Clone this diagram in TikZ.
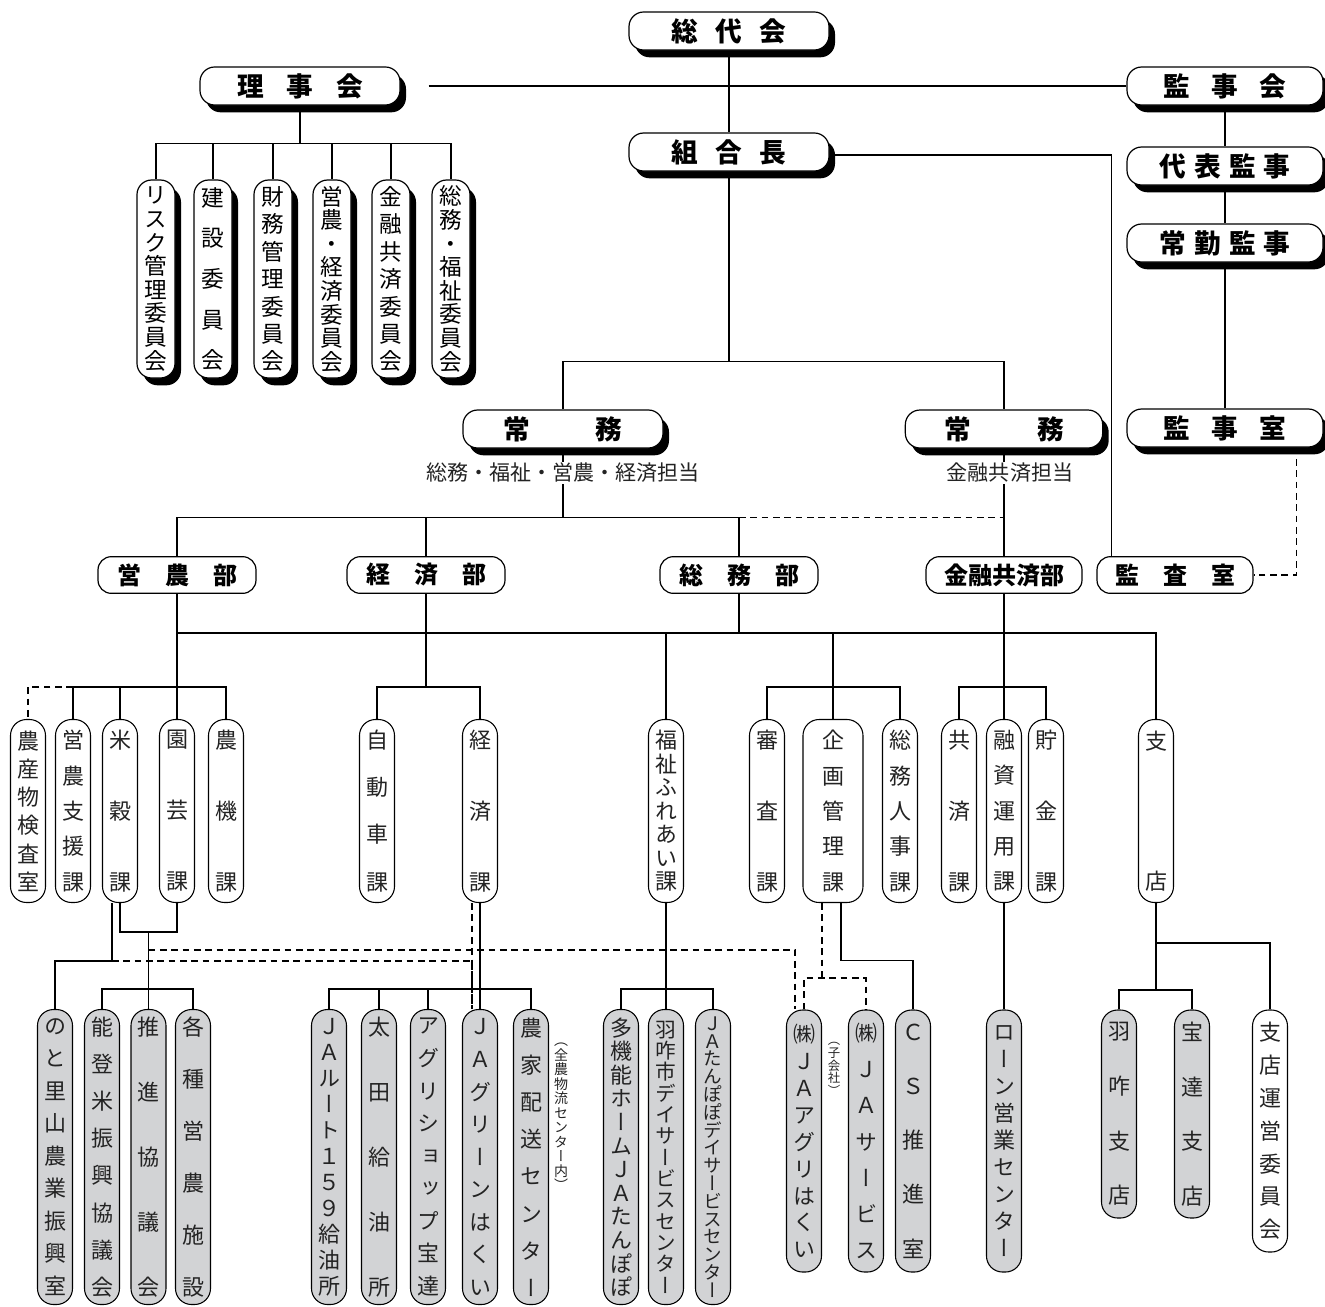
\documentclass[tikz,border=0pt]{standalone}
\usepackage{fontspec}
\setmainfont{Noto Sans CJK JP}
\newfontfamily\vfont{Noto Sans CJK JP}[RawFeature=+vert]
\usetikzlibrary{calc,shadows}
\definecolor{boxgray}{RGB}{210,211,213}
\definecolor{inkgray}{RGB}{35,35,35}
\tikzset{
  conn/.style={draw=black,line width=0.9pt},
  dconn/.style={conn,dash pattern=on 5pt off 3.5pt},
  vt/.style 2 args={font={\vfont\fontsize{#1}{#2}\selectfont\lineskiplimit=-50pt}},
  blackshadow/.style={drop shadow={shadow xshift=4.5pt,shadow yshift=-5.5pt,fill=black,opacity=1}},
  topbox/.style={draw,line width=0.9pt,fill=white,rounded corners=11pt,blackshadow,
    minimum width=150pt,minimum height=28.5pt,inner sep=0pt,
    font=\bfseries\fontsize{20}{22}\selectfont},
  iinbox/.style={draw,line width=0.9pt,fill=white,rounded corners=11pt,blackshadow,
    minimum width=28.5pt,minimum height=148.5pt,inner sep=0pt,align=center},
  bubox/.style={draw,line width=0.9pt,fill=white,rounded corners=10pt,
    minimum width=118.5pt,minimum height=27.5pt,inner sep=0pt,
    font=\bfseries\fontsize{18}{20}\selectfont},
  kabox/.style={draw,line width=0.8pt,fill=white,rounded corners=12pt,text=inkgray,
    minimum width=26.25pt,minimum height=137.25pt,inner sep=0pt,align=center},
  kobox/.style={kabox,fill=boxgray,minimum height=221.25pt},
  tanto/.style={inner sep=1pt,text=inkgray,font=\fontsize{15.8}{18}\selectfont},
  sidenote/.style={inner sep=0pt,align=center,text=inkgray},
}
\begin{document}
\begin{tikzpicture}[x=0.75pt,y=-0.75pt]
\useasboundingbox (0,0) rectangle (1325,1307);
% top
\node[topbox] (sodai) at (729,31) {総\hspace{13pt}代\hspace{13pt}会};
\node[topbox] (riji) at (300,86) {理\hspace{17pt}事\hspace{17pt}会};
\node[topbox,minimum width=147pt] (kanjikai) at (1225,86) {監\hspace{16pt}事\hspace{16pt}会};
\node[topbox] (kumiai) at (729,152) {組\hspace{13pt}合\hspace{13pt}長};
\node[topbox,minimum width=147pt] (daihyo) at (1225,166) {代\hspace{6pt}表\hspace{6pt}監\hspace{6pt}事};
\node[topbox,minimum width=147pt] (jokin) at (1225,243) {常\hspace{6pt}勤\hspace{6pt}監\hspace{6pt}事};
\node[topbox,minimum width=147pt] (kanjishitsu) at (1225,428) {監\hspace{16pt}事\hspace{16pt}室};
\node[topbox] (jomuL) at (563,429) {常\hspace{49pt}務};
\node[topbox,minimum width=148pt] (jomuR) at (1004,429) {常\hspace{50pt}務};
\node[tanto] (tantoL) at (563,473) {総務・福祉・営農・経済担当};
\node[tanto] (tantoR) at (1010,473) {金融共済担当};
% committees
\node[iinbox,vt={17}{17.7}] (iin1) at (156,279) {リ\\ス\\ク\\管\\理\\委\\員\\会};
\node[iinbox,vt={17}{30.4}] (iin2) at (213,279) {建\\設\\委\\員\\会};
\node[iinbox,vt={17}{20.6}] (iin3) at (273,279) {財\\務\\管\\理\\委\\員\\会};
\node[iinbox,vt={17}{17.7}] (iin4) at (332,279) {営\\農\\・\\経\\済\\委\\員\\会};
\node[iinbox,vt={17}{20.6}] (iin5) at (391,279) {金\\融\\共\\済\\委\\員\\会};
\node[iinbox,vt={17}{17.7}] (iin6) at (451,279) {総\\務\\・\\福\\祉\\委\\員\\会};
% departments
\node[bubox] (einobu) at (177,575) {営\hspace{18pt}農\hspace{18pt}部};
\node[bubox] (keizaibu) at (426,575) {経\hspace{18pt}済\hspace{18pt}部};
\node[bubox] (somubu) at (739,575) {総\hspace{18pt}務\hspace{18pt}部};
\node[bubox,minimum width=117pt] (kinyubu) at (1004,575) {金融共済部};
\node[bubox,minimum width=117pt] (kansa) at (1175,575) {監\hspace{18pt}査\hspace{18pt}室};
% sections
\node[kabox,vt={16.5}{21.2}] (kensa) at (28,811) {農\\産\\物\\検\\査\\室};
\node[kabox,vt={16.5}{26.5}] (shien) at (73,811) {営\\農\\支\\援\\課};
\node[kabox,vt={16.5}{53.3}] (beikoku) at (120,811) {米\\穀\\課};
\node[kabox,vt={16.5}{53.3}] (engei) at (177,811) {園\\芸\\課};
\node[kabox,vt={16.5}{53.3}] (noki) at (226,811) {農\\機\\課};
\node[kabox,vt={16.5}{35.3}] (jidosha) at (377,811) {自\\動\\車\\課};
\node[kabox,vt={16.5}{53.3}] (keizaika) at (480,811) {経\\済\\課};
\node[kabox,vt={16.5}{17.6}] (fukushi) at (666,811) {福\\祉\\ふ\\れ\\あ\\い\\課};
\node[kabox,vt={16.5}{53.3}] (shinsa) at (767,811) {審\\査\\課};
\node[kabox,vt={16.5}{26.5},minimum width=45pt] (kikaku) at (833,811) {企\\画\\管\\理\\課};
\node[kabox,vt={16.5}{26.5}] (jinji) at (900,811) {総\\務\\人\\事\\課};
\node[kabox,vt={16.5}{53.3}] (kyosai) at (959,811) {共\\済\\課};
\node[kabox,vt={16.5}{26.5}] (yushi) at (1004,811) {融\\資\\運\\用\\課};
\node[kabox,vt={16.5}{53.3}] (chokin) at (1046,811) {貯\\金\\課};
\node[kabox,vt={16.5}{105}] (shiten) at (1156,811) {支\\店};
% bottom row
\node[kobox,vt={16.5}{24.4}] (noto) at (55,1157) {の\\と\\里\\山\\農\\業\\振\\興\\室};
\node[kobox,vt={16.5}{27.9}] (notomai) at (102,1157) {能\\登\\米\\振\\興\\協\\議\\会};
\node[kobox,vt={16.5}{48.8}] (suishin) at (148.5,1157) {推\\進\\協\\議\\会};
\node[kobox,vt={16.5}{39}] (kakushu) at (193,1157) {各\\種\\営\\農\\施\\設};
\node[kobox,vt={16.5}{19.5}] (route) at (329,1157) {Ｊ\\Ａ\\ル\\ー\\ト\\１\\５\\９\\給\\油\\所};
\node[kobox,vt={16.5}{48.8}] (ota) at (379,1157) {太\\田\\給\\油\\所};
\node[kobox,vt={16.5}{24.4}] (agshop) at (428,1157) {ア\\グ\\リ\\シ\\ョ\\ッ\\プ\\宝\\達};
\node[kobox,vt={16.5}{24.4}] (green) at (480,1157) {Ｊ\\Ａ\\グ\\リ\\ー\\ン\\は\\く\\い};
\node[kobox,vt={16.5}{27.9}] (haiso) at (531,1157) {農\\家\\配\\送\\セ\\ン\\タ\\ー};
\node[sidenote,vt={10.5}{10.9}] (zennoh) at (561,1117) {（\\全\\農\\物\\流\\セ\\ン\\タ\\ー\\内\\）};
\node[kobox,vt={16.5}{17.7}] (tanpopo) at (621,1157) {多\\機\\能\\ホ\\ー\\ム\\Ｊ\\Ａ\\た\\ん\\ぽ\\ぽ};
\node[kobox,vt={15.5}{16}] (hakuiday) at (666,1157) {羽\\咋\\市\\デ\\イ\\サ\\ー\\ビ\\ス\\セ\\ン\\タ\\ー};
\node[kobox,vt={14}{13.35}] (tanday) at (713,1157) {Ｊ\\Ａ\\た\\ん\\ぽ\\ぽ\\デ\\イ\\サ\\ー\\ビ\\ス\\セ\\ン\\タ\\ー};
\node[kobox,vt={16.5}{20.2},minimum height=196.5pt] (agri) at (804,1141) {㈱\\Ｊ\\Ａ\\ア\\グ\\リ\\は\\く\\い};
\node[sidenote,vt={9.3}{9.6}] (kogaisha) at (834,1069) {（\\子\\会\\社\\）};
\node[kobox,vt={16.5}{27.1},minimum height=196.5pt] (jasvc) at (866,1141) {㈱\\Ｊ\\Ａ\\サ\\ー\\ビ\\ス};
\node[kobox,vt={16.5}{40.7},minimum height=196.5pt] (cs) at (913,1141) {Ｃ\\Ｓ\\推\\進\\室};
\node[kobox,vt={16.5}{20.3},minimum height=196.5pt] (loan) at (1004,1141) {ロ\\ー\\ン\\営\\業\\セ\\ン\\タ\\ー};
\node[kobox,vt={16.5}{41},minimum height=156pt] (hakui) at (1119,1114) {羽\\咋\\支\\店};
\node[kobox,vt={16.5}{41},minimum height=156pt] (hodatsu) at (1192,1114) {宝\\達\\支\\店};
\node[kabox,vt={16.5}{24.6},minimum height=181.5pt] (unei) at (1270,1131) {支\\店\\運\\営\\委\\員\\会};
% top connectors
\draw[conn] (sodai) -- (kumiai);
\coordinate (rijiend) at ($(riji.east)+(28,0)$);
\draw[conn] (rijiend) -- (kanjikai.west);
\draw[conn] (kanjikai) -- (daihyo);
\draw[conn] (daihyo) -- (jokin);
\draw[conn] (jokin) -- (kanjishitsu);
\coordinate (kansaend) at ($(kansa.north west)+(15,0)$);
\draw[conn] ($(kumiai.east)+(0,3)$) -| (kansaend);
\coordinate (rijibus) at ($(riji.south)+(0,38)$);
\draw[conn] (riji) -- (rijibus);
\draw[conn] (iin1) |- (rijibus) -| (iin6);
\foreach \i in {2,...,5} \draw[conn] (iin\i) -- (iin\i |- rijibus);
\coordinate (jomubus) at ($(kumiai.south)+(0,190)$);
\draw[conn] (kumiai) -- (jomubus);
\draw[conn] (jomuL) |- (jomubus) -| (jomuR);
% jomu to bu
\draw[conn] (jomuL) -- (tantoL);
\coordinate (bubus) at ($(jomuL.south)+(0,69)$);
\draw[conn] (tantoL) -- (bubus);
\draw[conn] (einobu) |- (bubus) -| (somubu);
\draw[conn] (keizaibu) -- (keizaibu |- bubus);
\draw[dconn] (somubu |- bubus) -- (kinyubu |- bubus);
\draw[conn] (jomuR) -- (jomuR |- tantoR.north);
\draw[conn] (jomuR |- tantoR.south) -- (kinyubu);
\draw[dconn] ($(kanjishitsu.south east)+(-27,0)$) |- (kansa);
% bu to ka
\coordinate (kabus) at ($(einobu.south)+(0,39)$);
\coordinate (einobus) at ($(einobu.south)+(0,93)$);
\draw[conn] (einobu) -- (engei);
\draw[conn] (einobu |- kabus) -- (shiten |- kabus) -- (shiten);
\draw[conn] (keizaibu) -- (keizaibu |- einobus);
\draw[conn] (somubu) -- (somubu |- kabus);
\draw[conn] (fukushi) -- (fukushi |- kabus);
\draw[conn] (kikaku) -- (kikaku |- kabus);
\draw[conn] (kinyubu) -- (yushi);
\draw[conn] (shien) |- (einobus) -| (noki);
\draw[conn] (beikoku) -- (beikoku |- einobus);
\draw[dconn] (shien |- einobus) -| (kensa);
\draw[conn] (jidosha) |- (keizaibu |- einobus) -| (keizaika);
\draw[conn] (shinsa) |- (kikaku |- einobus) -| (jinji);
\draw[conn] (kyosai) |- (yushi |- einobus) -| (chokin);
% eino lower
\coordinate (beibrk) at ($(beikoku.south)!0.5!(engei.south)+(0,29)$);
\draw[conn] (beikoku) |- (beibrk) -| (engei);
\draw[conn] (beibrk) -- (suishin);
\coordinate (suibus) at ($(suishin.north)+(0,-20)$);
\draw[conn] (notomai) |- (suibus) -| (kakushu);
\coordinate (notobrk) at ($(beikoku.south)+(-8,58)$);
\draw[conn] ($(beikoku.south)+(-8,0)$) -- (notobrk) -| (noto);
\draw[dconn] (notobrk) -| ($(green.north)+(-8,0)$);
\draw[dconn] ($(keizaika.south)+(-8,0)$) -- ($(green.north)+(-8,0)$);
\draw[dconn] ($(beibrk)+(0,18)$) -| ($(agri.north)+(-9,0)$);
% keizai lower
\coordinate (keibus) at ($(green.north)+(0,-20)$);
\draw[conn] (keizaika) -- (green);
\draw[conn] (route) |- (keibus) -| (haiso);
\draw[conn] (ota) -- (ota |- keibus);
\draw[conn] (agshop) -- (agshop |- keibus);
% fukushi lower
\draw[conn] (fukushi) -- (hakuiday);
\draw[conn] (tanpopo) |- (hakuiday |- keibus) -| (tanday);
% kikaku lower
\coordinate (csbend) at ($(cs.north)+(0,-49)$);
\draw[conn] ($(kikaku.south)+(8,0)$) |- (csbend) -- (cs);
\coordinate (kobus) at ($(kikaku.south)+(-11,75)$);
\draw[dconn] ($(kikaku.south)+(-11,0)$) -- (kobus);
\draw[dconn] (agri) |- (kobus) -| (jasvc);
\draw[conn] (yushi) -- (loan);
% shiten lower
\coordinate (shbus) at ($(shiten.south)+(0,87)$);
\draw[conn] (shiten) -- (shbus);
\draw[conn] (hakui) |- (shbus) -| (hodatsu);
\draw[conn] ($(shiten.south)+(0,40)$) -| (unei);
\end{tikzpicture}
\end{document}
